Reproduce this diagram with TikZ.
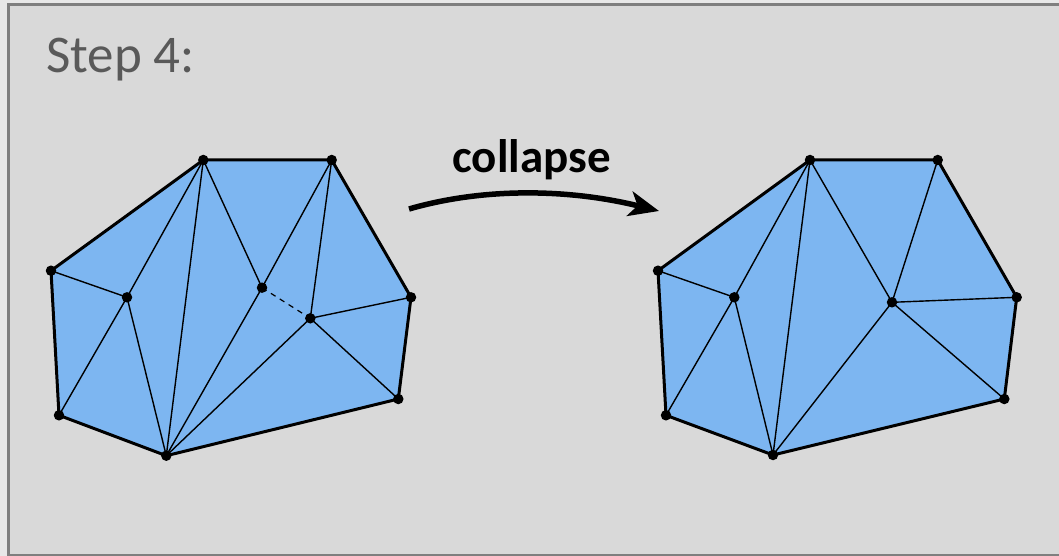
\documentclass[tikz,border=0pt]{standalone}
\usepackage{fontspec}
\setmainfont{Carlito}
\usepackage{xcolor}
\usetikzlibrary{arrows.meta}
\definecolor{latar}{HTML}{D9D9D9}
\definecolor{luar}{HTML}{E8E8E8}
\definecolor{bingkai}{HTML}{7F7F7F}
\definecolor{jaring}{HTML}{7DB6F1}
\definecolor{judul}{HTML}{595959}
\tikzset{
  titik/.style={circle, fill=black, inner sep=0pt, minimum size=10.5pt},
  tepi/.style={line width=3pt, line join=round, fill=jaring},
  sisi/.style={line width=1.4pt},
  putus/.style={line width=1.2pt, dash pattern=on 5.5pt off 5pt},
  panah/.style={-{Stealth[length=30pt, width=25pt, inset=8pt]}, line width=5.5pt},
  judulteks/.style={font=\fontsize{53}{60}\selectfont, text=judul, inner sep=0pt, anchor=base west},
  labelteks/.style={font=\fontsize{47}{54}\selectfont\bfseries, inner sep=0pt, anchor=base}
}

\begin{document}
\begin{tikzpicture}[x=1pt, y=-1pt]
  \useasboundingbox (0,0) rectangle (1059,556);
  \fill[luar] (0,0) rectangle (1059,556);
  \fill[latar] (8.5,4.5) rectangle (1059,555);
  \draw[bingkai, line width=2.4pt] (1059,4.5) -- (8.5,4.5) -- (8.5,555) -- (1059,555);
  \node[judulteks] (judul) at (46,73) {Step 4:};

  % jaring sebelum
  \foreach \nama/\x/\y in {a1/203.3/160, b1/331.7/160, c1/411/297.3, d1/398.3/399, e1/166.3/455.7,
    f1/59/415.3, g1/51/270.7, h1/127/297.3, i1/262/287.7, j1/310.3/318.3}
    \coordinate (\nama) at (\x,\y);
  \draw[tepi] (a1) -- (b1) -- (c1) -- (d1) -- (e1) -- (f1) -- (g1) -- cycle;
  \foreach \p/\q in {g1/h1, h1/a1, h1/f1, h1/e1, a1/e1, a1/i1, i1/b1, i1/e1, b1/j1, j1/c1, j1/d1, j1/e1}
    \draw[sisi] (\p) -- (\q);
  \draw[putus] (i1) -- (j1);
  \foreach \p in {a1, b1, c1, d1, e1, f1, g1, h1, i1, j1}
    \node[titik] at (\p) {};

  % jaring sesudah
  \foreach \nama/\x/\y in {a2/810/160, b2/937.7/160, c2/1016.7/297.3, d2/1004.3/399, e2/773/455,
    f2/666/415.3, g2/658/270.7, h2/734.3/297.3, k2/892/302.3}
    \coordinate (\nama) at (\x,\y);
  \draw[tepi] (a2) -- (b2) -- (c2) -- (d2) -- (e2) -- (f2) -- (g2) -- cycle;
  \foreach \p/\q in {g2/h2, h2/a2, h2/f2, h2/e2, a2/e2, a2/k2, k2/b2, k2/c2, k2/d2, k2/e2}
    \draw[sisi] (\p) -- (\q);
  \foreach \p in {a2, b2, c2, d2, e2, f2, g2, h2, k2}
    \node[titik] at (\p) {};

  % panah
  \coordinate (awal) at (409,209);
  \coordinate (akhir) at (659,211);
  \draw[panah] (awal) .. controls (485,187) and (570,189) .. (akhir);
  \node[labelteks] (runtuh) at (531.5,172) {collapse};
\end{tikzpicture}
\end{document}
